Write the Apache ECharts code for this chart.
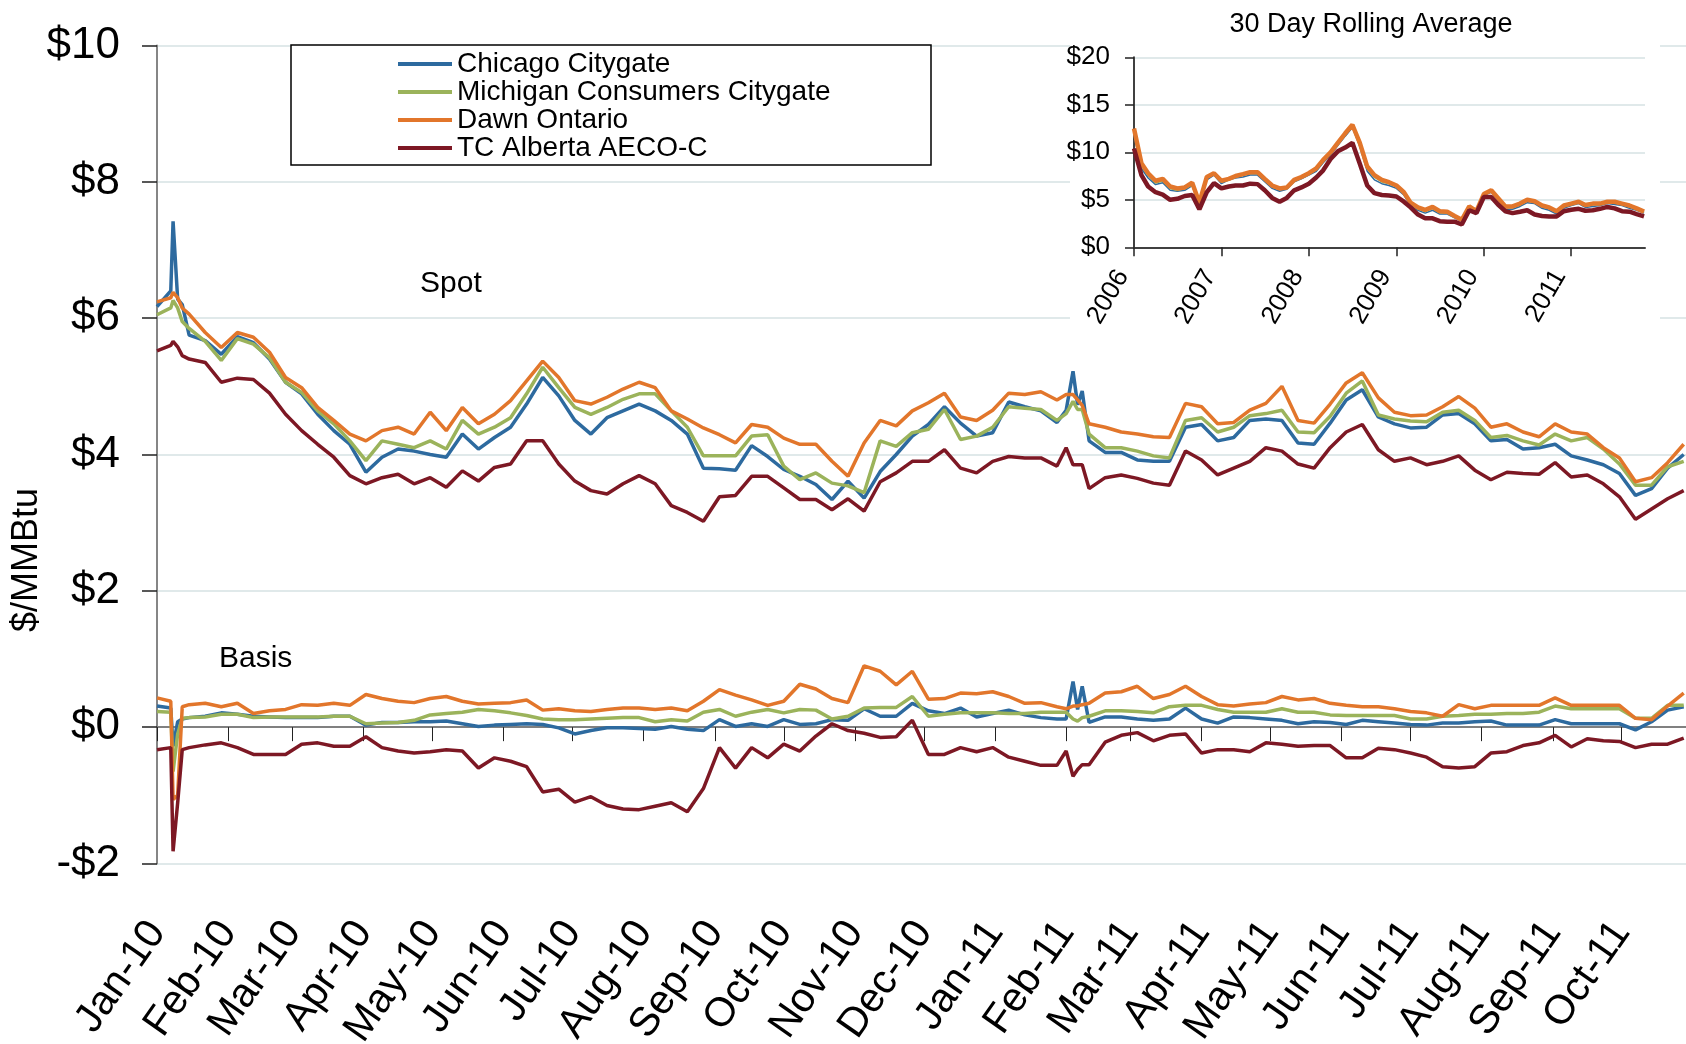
<!DOCTYPE html>
<html><head><meta charset="utf-8">
<script src="https://cdn.jsdelivr.net/npm/echarts@6/dist/echarts.min.js"></script>
<style>html,body{margin:0;padding:0;background:#fff}#c{width:1686px;height:1044px}</style>
</head><body><div id="c"></div>
<script>
// ---- data ----
const seriesNames = ['Chicago Citygate', 'Michigan Consumers Citygate', 'Dawn Ontario', 'TC Alberta AECO-C'];
const monthLabels = ['Jan-10','Feb-10','Mar-10','Apr-10','May-10','Jun-10','Jul-10','Aug-10','Sep-10','Oct-10','Nov-10','Dec-10',
  'Jan-11','Feb-11','Mar-11','Apr-11','May-11','Jun-11','Jul-11','Aug-11','Sep-11','Oct-11'];
const yearLabels = ['2006','2007','2008','2009','2010','2011'];

// observation days (days after 1 Jan 2010): weekly, plus a few extra days around the price spikes
const extraDays = [6, 9, 11, 396, 401, 403];

// spot prices, $/MMBtu
const spotChicago = [6.17,6.40,7.42,6.28,6.20,5.75,5.67,5.47,5.73,5.64,5.40,5.06,4.89,4.59,4.35,4.15,3.74,3.96,4.08,4.05,4.00,3.96,4.30,
  4.08,4.25,4.40,4.74,5.13,4.86,4.50,4.30,4.54,4.64,4.74,4.64,4.50,4.30,3.80,3.79,3.77,4.13,3.97,3.78,
  3.68,3.56,3.34,3.61,3.36,3.75,4.00,4.27,4.44,4.70,4.46,4.27,4.32,4.77,4.70,4.64,4.47,4.65,5.22,4.73,4.93,4.20,4.03,
  4.03,3.92,3.90,3.90,4.40,4.44,4.20,4.25,4.50,4.52,4.50,4.17,4.15,4.46,4.80,4.95,4.55,4.45,4.39,4.40,
  4.58,4.60,4.45,4.20,4.22,4.08,4.10,4.15,3.98,3.92,3.85,3.72,3.40,3.50,3.80,4.00];
const spotMichigan = [6.05,6.15,6.26,6.15,5.95,5.85,5.66,5.38,5.70,5.62,5.42,5.06,4.91,4.64,4.45,4.20,3.91,4.20,4.15,4.10,4.20,4.08,4.50,
  4.30,4.40,4.54,4.89,5.28,4.98,4.69,4.59,4.69,4.81,4.89,4.89,4.64,4.40,3.98,3.98,3.98,4.27,4.29,3.83,
  3.63,3.73,3.58,3.54,3.44,4.20,4.12,4.32,4.37,4.66,4.22,4.27,4.40,4.70,4.68,4.66,4.50,4.60,4.78,4.66,4.66,4.30,4.10,
  4.10,4.05,3.98,3.95,4.50,4.54,4.33,4.40,4.57,4.60,4.65,4.33,4.32,4.56,4.90,5.08,4.58,4.52,4.49,4.48,
  4.62,4.65,4.50,4.25,4.28,4.20,4.14,4.30,4.20,4.25,4.08,3.86,3.55,3.55,3.82,3.90];
const spotDawn = [6.24,6.30,6.38,6.30,6.15,6.06,5.79,5.57,5.79,5.72,5.50,5.13,4.98,4.69,4.50,4.30,4.20,4.35,4.40,4.30,4.62,4.35,4.69,
  4.45,4.59,4.79,5.08,5.37,5.13,4.79,4.74,4.84,4.96,5.06,4.98,4.64,4.52,4.39,4.29,4.17,4.44,4.40,4.24,
  4.15,4.15,3.90,3.68,4.17,4.50,4.42,4.64,4.76,4.90,4.55,4.50,4.65,4.90,4.88,4.92,4.80,4.88,4.88,4.80,4.72,4.45,4.40,
  4.33,4.30,4.26,4.25,4.75,4.70,4.45,4.47,4.65,4.75,5.00,4.50,4.46,4.74,5.05,5.20,4.83,4.62,4.57,4.58,
  4.70,4.85,4.68,4.40,4.45,4.33,4.26,4.45,4.33,4.30,4.10,3.95,3.60,3.66,3.88,4.15];
const spotAeco = [5.52,5.60,5.66,5.58,5.45,5.40,5.35,5.06,5.12,5.10,4.90,4.59,4.35,4.15,3.96,3.69,3.57,3.66,3.71,3.57,3.66,3.52,3.76,
  3.61,3.81,3.86,4.20,4.20,3.86,3.61,3.47,3.42,3.57,3.69,3.57,3.25,3.15,3.02,3.38,3.40,3.68,3.68,3.51,
  3.34,3.34,3.19,3.35,3.17,3.60,3.73,3.90,3.90,4.07,3.80,3.73,3.90,3.97,3.95,3.95,3.83,4.10,3.85,3.85,3.85,3.50,3.66,
  3.70,3.65,3.58,3.55,4.05,3.92,3.70,3.80,3.90,4.10,4.05,3.86,3.80,4.10,4.33,4.44,4.07,3.90,3.95,3.85,
  3.90,3.98,3.77,3.63,3.74,3.72,3.71,3.88,3.67,3.70,3.57,3.38,3.05,3.20,3.35,3.47];

// basis, $/MMBtu
const basisChicago = [0.31,0.28,-0.28,0.08,0.12,0.14,0.16,0.21,0.19,0.16,0.15,0.14,0.14,0.14,0.16,0.16,0.03,0.07,0.07,0.08,0.08,0.09,0.05,
  0.01,0.03,0.04,0.05,0.04,-0.01,-0.10,-0.05,-0.01,-0.01,-0.02,-0.03,0.01,-0.03,-0.05,0.11,0.01,0.05,0.01,0.11,
  0.04,0.05,0.11,0.10,0.27,0.16,0.16,0.35,0.24,0.20,0.28,0.15,0.20,0.25,0.18,0.14,0.12,0.12,0.67,0.26,0.60,0.07,0.15,
  0.15,0.12,0.10,0.12,0.28,0.12,0.06,0.15,0.14,0.12,0.10,0.05,0.08,0.07,0.04,0.10,0.08,0.06,0.04,0.03,
  0.06,0.06,0.08,0.09,0.03,0.03,0.03,0.11,0.05,0.05,0.05,0.05,-0.04,0.08,0.25,0.30];
const basisMichigan = [0.23,0.22,-0.65,-0.10,0.13,0.14,0.15,0.19,0.19,0.14,0.15,0.15,0.15,0.15,0.16,0.16,0.05,0.06,0.07,0.10,0.18,0.20,0.22,
  0.26,0.24,0.21,0.17,0.12,0.11,0.11,0.12,0.13,0.14,0.14,0.08,0.11,0.09,0.22,0.26,0.16,0.22,0.26,0.21,
  0.26,0.25,0.12,0.16,0.28,0.29,0.29,0.45,0.16,0.19,0.21,0.21,0.21,0.20,0.20,0.22,0.22,0.22,0.12,0.09,0.14,0.16,0.24,
  0.24,0.23,0.21,0.30,0.32,0.32,0.26,0.22,0.22,0.22,0.27,0.22,0.22,0.18,0.17,0.17,0.17,0.17,0.12,0.12,
  0.16,0.17,0.19,0.19,0.20,0.20,0.22,0.31,0.27,0.27,0.27,0.27,0.13,0.13,0.32,0.32];
const basisDawn = [0.43,0.38,-1.06,-1.00,0.30,0.33,0.35,0.30,0.35,0.20,0.24,0.26,0.33,0.32,0.35,0.32,0.48,0.42,0.38,0.36,0.42,0.45,0.38,
  0.34,0.35,0.36,0.40,0.25,0.27,0.24,0.23,0.26,0.28,0.28,0.26,0.28,0.24,0.38,0.55,0.47,0.40,0.32,0.38,
  0.63,0.56,0.42,0.36,0.90,0.82,0.62,0.82,0.41,0.42,0.50,0.49,0.52,0.45,0.35,0.36,0.30,0.27,0.31,0.31,0.33,0.35,0.50,
  0.52,0.60,0.42,0.48,0.60,0.45,0.33,0.31,0.34,0.36,0.45,0.40,0.42,0.35,0.32,0.30,0.30,0.27,0.23,0.21,
  0.16,0.33,0.27,0.32,0.32,0.32,0.32,0.43,0.32,0.32,0.32,0.32,0.13,0.11,0.31,0.50];
const basisAeco = [-0.33,-0.30,-1.82,-1.11,-0.33,-0.30,-0.26,-0.23,-0.30,-0.40,-0.40,-0.40,-0.25,-0.23,-0.28,-0.28,-0.14,-0.30,-0.35,-0.38,-0.36,-0.33,-0.35,
  -0.60,-0.45,-0.50,-0.58,-0.95,-0.91,-1.10,-1.02,-1.15,-1.20,-1.21,-1.16,-1.11,-1.24,-0.90,-0.30,-0.60,-0.30,-0.45,-0.25,
  -0.35,-0.13,0.05,-0.05,-0.09,-0.15,-0.14,0.10,-0.40,-0.40,-0.30,-0.36,-0.30,-0.44,-0.50,-0.56,-0.56,-0.35,-0.72,-0.62,-0.55,-0.55,-0.22,
  -0.12,-0.08,-0.20,-0.12,-0.10,-0.38,-0.33,-0.33,-0.36,-0.23,-0.25,-0.28,-0.27,-0.27,-0.45,-0.45,-0.31,-0.33,-0.38,-0.44,
  -0.58,-0.60,-0.58,-0.38,-0.36,-0.27,-0.23,-0.12,-0.29,-0.17,-0.20,-0.21,-0.30,-0.25,-0.25,-0.16];

// monthly 30-day rolling average, Jan 2006 - Nov 2011
const avgChicago = [11.8,8.3,7.3,6.6,6.8,6.0,5.9,6.0,6.5,4.4,7.1,7.6,6.7,7.1,7.3,7.4,7.6,7.6,6.9,6.2,5.9,6.1,6.9,7.2,
  7.6,8.0,8.9,9.7,10.7,11.7,12.6,10.6,8.0,7.1,6.7,6.5,6.2,5.5,4.4,3.9,3.6,3.9,3.5,3.5,3.1,2.75,4.1,3.7,
  5.5,5.8,5.0,4.0,4.0,4.3,4.7,4.6,4.1,3.9,3.5,4.1,4.4,4.6,4.2,4.3,4.4,4.6,4.5,4.4,4.1,3.9,3.6];
const avgMichigan = [12.2,8.6,7.6,6.8,7.0,6.2,6.0,6.2,6.6,4.5,7.3,7.7,6.9,7.1,7.4,7.6,7.8,7.8,7.1,6.4,6.1,6.2,7.0,7.3,
  7.7,8.2,9.1,9.9,10.9,11.9,12.8,10.8,8.3,7.4,6.9,6.7,6.4,5.7,4.6,4.05,3.8,4.1,3.65,3.6,3.2,2.8,4.2,3.75,
  5.6,5.9,5.1,4.2,4.2,4.5,4.9,4.75,4.3,4.1,3.7,4.3,4.5,4.7,4.35,4.5,4.5,4.7,4.7,4.5,4.3,4.0,3.7];
const avgDawn = [12.5,8.85,7.8,7.0,7.2,6.4,6.2,6.3,6.8,4.7,7.4,7.8,7.0,7.2,7.5,7.7,7.9,7.9,7.2,6.5,6.2,6.3,7.1,7.4,
  7.8,8.3,9.2,10.0,11.0,12.0,12.9,11.0,8.5,7.6,7.1,6.85,6.5,5.8,4.7,4.2,3.95,4.25,3.8,3.75,3.3,2.9,4.3,3.8,
  5.6,6.0,5.2,4.3,4.3,4.6,5.0,4.85,4.4,4.2,3.8,4.4,4.6,4.8,4.45,4.6,4.6,4.8,4.8,4.6,4.4,4.1,3.75];
const avgAeco = [10.4,7.6,6.4,5.8,5.55,5.0,5.1,5.4,5.5,4.0,5.8,6.75,6.2,6.4,6.5,6.5,6.7,6.65,6.0,5.2,4.8,5.2,6.0,6.3,
  6.7,7.35,8.1,9.3,10.1,10.5,11.0,8.8,6.5,5.7,5.5,5.45,5.35,4.8,4.2,3.45,3.05,3.05,2.75,2.7,2.7,2.4,3.9,3.6,
  5.3,5.3,4.5,3.8,3.6,3.75,3.9,3.45,3.3,3.25,3.25,3.8,3.95,4.05,3.85,3.9,4.05,4.25,4.1,3.8,3.75,3.5,3.25];

// ---- build ----
const FF = '"Liberation Sans", Arial, Helvetica, sans-serif';
const colors = ['#2D6A9F', '#9BB35B', '#E2762B', '#7D1824'];
const DAY = 86400000;
const t0 = Date.UTC(2010, 0, 1);
const obsDays = Array.from({ length: 96 }, (_, i) => i * 7).concat(extraDays).sort((a, b) => a - b);
const obsTimes = obsDays.map(d => t0 + d * DAY);
const monthTicks = monthLabels.map((_, k) => Date.UTC(2010, k, 1));
const yearTicks = yearLabels.map(y => Date.UTC(+y, 0, 1));
const avgTimes = avgDawn.map((_, m) => Date.UTC(2006, m, 1));
const wk = arr => arr.map((v, i) => [obsTimes[i], v]);
const mo = arr => arr.map((v, i) => [avgTimes[i], v]);

const grid = '#D6E2E3';
const line = (name, data, k, xi, w, z) => ({
  type: 'line', name, data, xAxisIndex: xi, yAxisIndex: xi, symbol: 'none', showSymbol: false,
  color: colors[k], lineStyle: { width: w, color: colors[k] }, z, silent: true, animation: false,
  emphasis: { disabled: true }
});

const spot = [spotChicago, spotMichigan, spotDawn, spotAeco];
const basis = [basisChicago, basisMichigan, basisDawn, basisAeco];
const avg = [avgChicago, avgMichigan, avgDawn, avgAeco];
const avgWidths = [1.5, 2, 4.5, 4.5];
const series = [];
spot.forEach((a, k) => series.push(line(seriesNames[k], wk(a), k, 0, 3.5, 2)));
basis.forEach((a, k) => series.push(line(seriesNames[k], wk(a), k, 0, 3.5, 2)));
avg.forEach((a, k) => series.push(line(seriesNames[k], mo(a), k, 1, avgWidths[k], 6)));

const chart = echarts.init(document.getElementById('c'));
chart.setOption({
  animation: false,
  textStyle: { fontFamily: FF },
  grid: [
    { left: 157, top: 45.5, width: 1529, height: 818, containLabel: false, outerBoundsMode: 'none' },
    { left: 1134, top: 57.3, width: 511, height: 190, containLabel: false, outerBoundsMode: 'none' }
  ],
  xAxis: [
    {
      type: 'value', gridIndex: 0, min: t0, max: Date.UTC(2011, 9, 29), z: 0,
      axisLine: { onZero: true, lineStyle: { color: '#808080', width: 2 } },
      axisTick: { show: true, customValues: monthTicks, length: 14, lineStyle: { color: '#222', width: 1 } },
      axisLabel: {
        customValues: monthTicks, rotate: 55, margin: 62, fontSize: 41, color: '#000', fontFamily: FF,
        formatter: v => { const k = monthTicks.indexOf(v); return k >= 0 ? monthLabels[k] : ''; }
      },
      splitLine: { show: false }
    },
    {
      type: 'value', gridIndex: 1, min: Date.UTC(2006, 0, 1), max: Date.UTC(2011, 10, 5), z: 5,
      axisLine: { onZero: false, lineStyle: { color: '#404040', width: 2 } },
      axisTick: { show: true, customValues: yearTicks, length: 9, lineStyle: { color: '#222', width: 1.5 } },
      axisLabel: {
        customValues: yearTicks, rotate: 60, margin: 31, fontSize: 26, color: '#000', fontFamily: FF,
        verticalAlign: 'bottom',
        formatter: v => { const k = yearTicks.indexOf(v); return k >= 0 ? yearLabels[k] : ''; }
      },
      splitLine: { show: false }
    }
  ],
  yAxis: [
    {
      type: 'value', gridIndex: 0, min: -2, max: 10, interval: 2, z: 0,
      axisLine: { show: true, lineStyle: { color: '#868686', width: 2 } },
      axisTick: { show: true, length: 15, lineStyle: { color: '#222', width: 1.5 } },
      axisLabel: { fontSize: 44, color: '#000', margin: 37, fontFamily: FF,
        formatter: v => (v < 0 ? '-$' + (-v) : '$' + v) },
      splitLine: { show: true, lineStyle: { color: grid, width: 1.5 } }
    },
    {
      type: 'value', gridIndex: 1, min: 0, max: 20, interval: 5, z: 5,
      axisLine: { show: true, lineStyle: { color: '#404040', width: 2 } },
      axisTick: { show: true, length: 9, lineStyle: { color: '#222', width: 1.5 } },
      axisLabel: { fontSize: 26, color: '#000', margin: 24, fontFamily: FF, formatter: v => '$' + v },
      splitLine: { show: true, lineStyle: { color: grid, width: 1.5 } }
    }
  ],
  legend: {
    data: seriesNames, orient: 'vertical', left: 398, top: 50, padding: 0, itemGap: 0,
    itemWidth: 54, itemHeight: 4, icon: 'rect', selectedMode: false, z: 10,
    textStyle: { fontSize: 28, lineHeight: 26, color: '#000', fontFamily: FF }
  },
  graphic: [
    { type: 'rect', z: 3, silent: true, shape: { x: 1070, y: 0, width: 590, height: 335 },
      style: { fill: '#fff', stroke: null } },
    { type: 'rect', z: 9, silent: true, shape: { x: 291, y: 45, width: 640, height: 120 },
      style: { fill: '#fff', stroke: '#000', lineWidth: 1.5 } },
    { type: 'text', z: 10, silent: true, x: 1371, y: 25,
      style: { text: '30 Day Rolling Average', fill: '#000', font: '27px ' + FF,
        align: 'center', verticalAlign: 'middle', textAlign: 'center', textVerticalAlign: 'middle' } },
    { type: 'text', z: 10, silent: true, x: 420, y: 284,
      style: { text: 'Spot', fill: '#000', font: '30px ' + FF,
        align: 'left', verticalAlign: 'middle', textAlign: 'left', textVerticalAlign: 'middle' } },
    { type: 'text', z: 10, silent: true, x: 219, y: 659,
      style: { text: 'Basis', fill: '#000', font: '30px ' + FF,
        align: 'left', verticalAlign: 'middle', textAlign: 'left', textVerticalAlign: 'middle' } },
    { type: 'text', z: 10, silent: true, x: 27, y: 560, rotation: Math.PI / 2,
      style: { text: '$/MMBtu', fill: '#000', font: '36px ' + FF,
        align: 'center', verticalAlign: 'middle', textAlign: 'center', textVerticalAlign: 'middle' } }
  ],
  series
});
</script>
</body></html>
